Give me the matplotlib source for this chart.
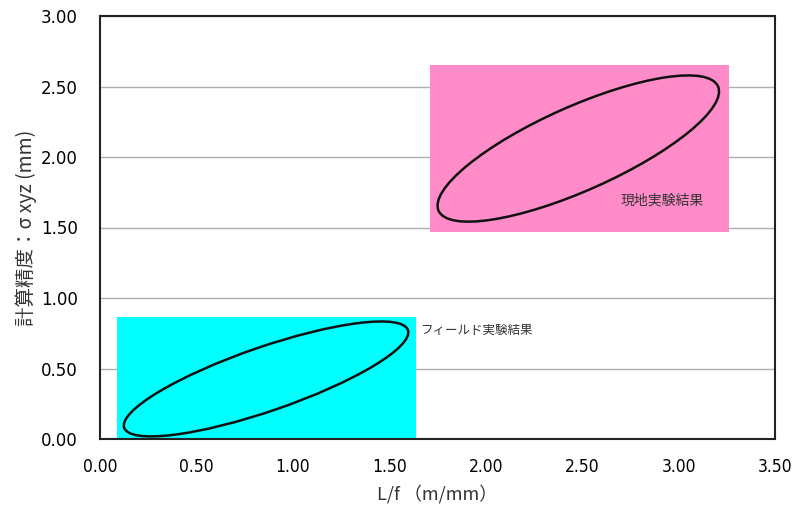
import matplotlib
matplotlib.use("Agg")
import matplotlib.pyplot as plt
from matplotlib.patches import Rectangle, Ellipse
from matplotlib.transforms import Affine2D

plt.rcParams["font.family"] = ["Noto Sans CJK JP", "DejaVu Sans"]

# 範囲（矩形）: x0, x1, y0, y1
field_box = [0.09, 1.64, 0.0, 0.865]
site_box = [1.71, 3.26, 1.47, 2.65]

# 楕円: 中心x, 中心y, 長半径, 短半径 (x単位), 角度(度, 画面上)
field_ell = [0.861, 0.426, 0.778, 0.166, 19]
site_ell = [2.48, 2.06, 0.793, 0.218, 24]

field_label = "フィールド実験結果"
site_label = "現地実験結果"
field_label_pos = (1.66, 0.77)
site_label_pos = (2.70, 1.69)

xticks = [0.0, 0.5, 1.0, 1.5, 2.0, 2.5, 3.0, 3.5]
yticks = [0.0, 0.5, 1.0, 1.5, 2.0, 2.5, 3.0]

fig = plt.figure(figsize=(7.92, 5.08), dpi=100)
ax = fig.add_axes([100 / 792, 1 - 439 / 508, 675 / 792, 423 / 508])
ax.set_xlim(0, 3.5)
ax.set_ylim(0, 3.0)

ax.set_yticks(yticks)
ax.set_xticks(xticks)
ax.set_yticklabels(["%.2f" % v for v in yticks], family=["DejaVu Sans"], fontsize=12)
ax.set_xticklabels(["%.2f" % v for v in xticks], family=["DejaVu Sans"],
                   stretch="condensed", fontsize=12.5)
ax.tick_params(length=0)
ax.tick_params(axis="y", pad=16)
ax.tick_params(axis="x", pad=14)
ax.yaxis.grid(True, color="#b0b0b0", linewidth=1)
ax.set_axisbelow(True)
for s in ax.spines.values():
    s.set_linewidth(1.5)
    s.set_color("#222222")

# 画面上の縦横比（y方向1単位 / x方向1単位）
bb = ax.get_position()
aspect = (bb.height * 508 / 3.0) / (bb.width * 792 / 3.5)

for box, col in [(field_box, "#00FFFF"), (site_box, "#FF8CC8")]:
    ax.add_patch(Rectangle((box[0], box[2]), box[1] - box[0], box[3] - box[2],
                           facecolor=col, edgecolor="none", zorder=1))

for e in [field_ell, site_ell]:
    tr = Affine2D().scale(1, 1 / aspect).translate(e[0], e[1]) + ax.transData
    ax.add_patch(Ellipse((0, 0), 2 * e[2], 2 * e[3], angle=e[4], transform=tr,
                         facecolor="none", edgecolor="#111111", linewidth=1.8, zorder=3))

ax.text(field_label_pos[0], field_label_pos[1], field_label, fontsize=9,
        ha="left", va="center", color="#333333")
ax.text(site_label_pos[0], site_label_pos[1], site_label, fontsize=10,
        ha="left", va="center", color="#333333")

ax.set_ylabel("計算精度：σ xyz (mm)", fontsize=14, labelpad=3, color="#333333")
ax.set_xlabel("L/f （m/mm）", fontsize=13, labelpad=6, color="#333333",
              family=["Noto Sans CJK JP", "DejaVu Sans"])

fig.savefig("out.png", dpi=100)
